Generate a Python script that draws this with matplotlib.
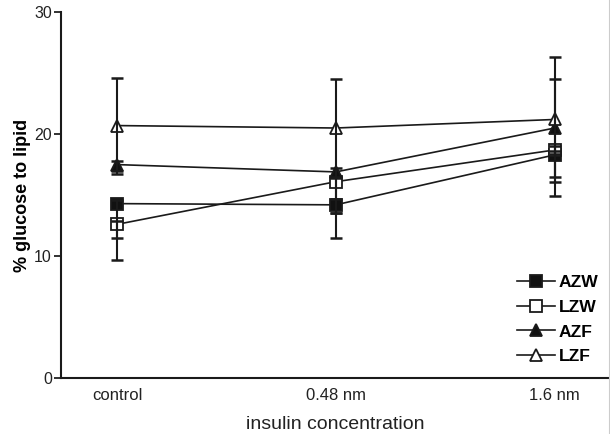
import matplotlib
matplotlib.use("Agg")
import matplotlib.pyplot as plt
from matplotlib.lines import Line2D

plt.rcParams['font.family'] = ['Liberation Sans', 'DejaVu Sans']

# data (error bars are not symmetric in the original)
doses = ["control", "0.48 nm", "1.6 nm"]

azw = [14.3, 14.2, 18.3]
azw_lo = [2.8, 0.7, 3.4]
azw_hi = [0.3, 0.5, 0.3]
lzw = [12.6, 16.1, 18.7]
lzw_lo = [2.9, 4.6, 0.3]
lzw_hi = [0.3, 0.3, 0.3]
azf = [17.5, 16.9, 20.5]
azf_lo = [0.5, 3.4, 4.0]
azf_hi = [0.3, 0.3, 4.0]
lzf = [20.7, 20.5, 21.2]
lzf_lo = [4.0, 4.0, 5.1]
lzf_hi = [3.9, 4.0, 5.1]

series = [
    ("AZW", azw, azw_lo, azw_hi, 's', '#111111'),
    ("LZW", lzw, lzw_lo, lzw_hi, 's', 'white'),
    ("AZF", azf, azf_lo, azf_hi, '^', '#111111'),
    ("LZF", lzf, lzf_lo, lzf_hi, '^', 'white'),
]
ink = '#1a1a1a'

fig = plt.figure(figsize=(6.1, 4.34), dpi=100)
ax = fig.add_axes([0.1, 0.129, 0.898, 0.843])

x = list(range(len(doses)))
for name, vals, lo, hi, mk, fc in series:
    ax.plot(x, vals, color=ink, lw=1.2, marker=mk, markersize=9,
            markerfacecolor=fc, markeredgecolor=ink, markeredgewidth=1.3, zorder=2)
for name, vals, lo, hi, mk, fc in series:
    ax.errorbar(x, vals, yerr=[lo, hi], fmt='none', ecolor=ink,
                elinewidth=1.5, capsize=4.4, capthick=1.8, zorder=3)

ax.set_xlim(-0.256, 2.247)
ax.set_ylim(0, 30)
ax.set_yticks([0, 10, 20, 30])
ax.set_xticks(x)
ax.set_xticklabels(doses)
ax.tick_params(axis='x', length=0, pad=7, labelsize=12, colors='#222222')
ax.tick_params(axis='y', length=5, width=1.3, pad=1.5, labelsize=11.5, colors='#222222')
for s in ['top', 'right']:
    ax.spines[s].set_visible(False)
for s in ['left', 'bottom']:
    ax.spines[s].set_linewidth(1.5)
    ax.spines[s].set_color(ink)

ax.set_ylabel("% glucose to lipid", fontsize=13, fontweight='bold', labelpad=2.5)
ax.set_xlabel("insulin concentration", fontsize=14, labelpad=9.5, color='#222222')

handles = []
for name, vals, lo, hi, mk, fc in series:
    handles.append(Line2D([], [], color=ink, lw=1.2, marker=mk, markersize=9,
                          markerfacecolor=fc, markeredgecolor=ink, markeredgewidth=1.3))
ax.legend(handles, [s[0] for s in series], loc='center left', frameon=False,
          prop={'weight': 'bold', 'size': 12.6}, handlelength=2.15, handletextpad=0.25,
          labelspacing=0.55, borderpad=0, borderaxespad=0,
          bbox_to_anchor=(517 / 610, 1 - 319.5 / 434), bbox_transform=fig.transFigure)

fig.add_artist(Line2D([0.9985, 0.9985], [0, 1], transform=fig.transFigure, color='#cccccc', lw=0.8))

fig.savefig("out.png", dpi=100)
